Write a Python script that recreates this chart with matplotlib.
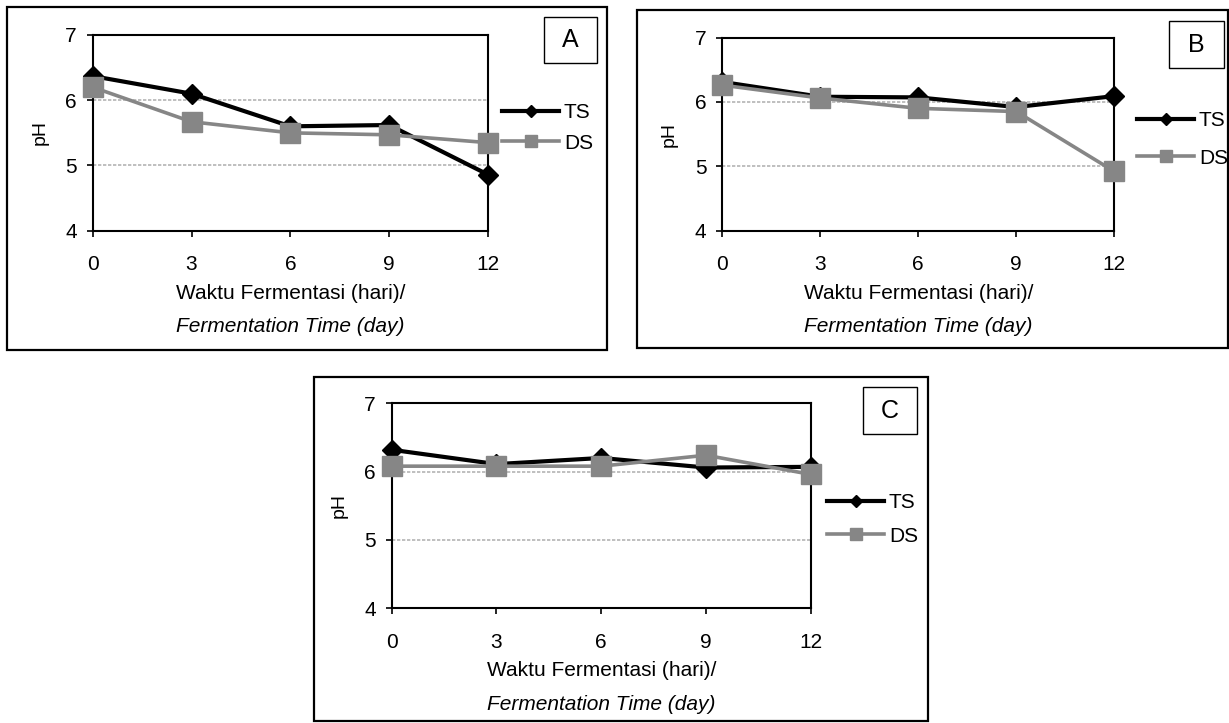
import matplotlib
matplotlib.use("Agg")
import matplotlib.pyplot as plt
from matplotlib.patches import Rectangle

plt.rcParams['font.family'] = ['Liberation Sans', 'DejaVu Sans']

days = [0, 3, 6, 9, 12]
xtick_labels = ["0", "3", "6", "9", "12"]
ytick_vals = [4, 5, 6, 7]

ts_a = [6.37, 6.10, 5.60, 5.62, 4.86]
ds_a = [6.20, 5.67, 5.50, 5.47, 5.35]
ts_b = [6.31, 6.08, 6.07, 5.92, 6.09]
ds_b = [6.26, 6.06, 5.90, 5.85, 4.92]
ts_c = [6.32, 6.11, 6.20, 6.06, 6.07]
ds_c = [6.08, 6.08, 6.08, 6.24, 5.96]

panel_letters = ["A", "B", "C"]
series_names = ["TS", "DS"]
xlabel_line1 = "Waktu Fermentasi (hari)/"
xlabel_line2 = "Fermentation Time (day)"
ylabel_text = "pH"

W, H = 1229, 723
fig = plt.figure(figsize=(W / 100, H / 100), dpi=100)
PX = 0.72  # points per pixel at dpi 100


def fx(px):
    return px / W


def fy(py):
    return 1 - py / H


def panel(frame, axbox, letterbox, leg, ts, ds, letter):
    x0, y0, x1, y1 = frame
    fig.patches.append(Rectangle((fx(x0), fy(y1)), fx(x1 - x0), (y1 - y0) / H,
                                 transform=fig.transFigure, fill=False,
                                 edgecolor='black', linewidth=1.6, zorder=0))
    ax0, ay0, ax1, ay1 = axbox
    ax = fig.add_axes([fx(ax0), fy(ay1), fx(ax1 - ax0), (ay1 - ay0) / H])
    for v in [5, 6]:
        ax.axhline(v, color='#b4b4b4', lw=1.2, ls=(0, (2, 1)), zorder=1)
    ax.plot(days, ts, color='black', lw=3, marker='D', markersize=10,
            markerfacecolor='black', markeredgecolor='black', label=series_names[0],
            zorder=3, clip_on=False)
    ax.plot(days, ds, color='#868686', lw=2.6, marker='s', markersize=14,
            markerfacecolor='#868686', markeredgecolor='#868686', label=series_names[1],
            zorder=4, clip_on=False)
    ax.set_xlim(0, 12)
    ax.set_ylim(4, 7)
    ax.set_xticks(days)
    ax.set_xticklabels(xtick_labels)
    ax.set_yticks(ytick_vals)
    for s in ax.spines.values():
        s.set_linewidth(1.5)
    ax.tick_params(axis='both', labelsize=15, length=4.5, width=1.2, direction='out')
    ax.tick_params(axis='x', pad=13)
    ax.tick_params(axis='y', pad=7)
    ax.set_ylabel(ylabel_text, fontsize=14, labelpad=12)
    ax.set_xlabel(xlabel_line1, fontsize=15, labelpad=7)
    ax.annotate(xlabel_line2, xy=(0.5, 0), xycoords='axes fraction',
                xytext=(0, -96 * PX), textcoords='offset points',
                ha='center', va='center', fontsize=15, style='italic')
    # legend
    lx, ly_ts, ly_ds = leg
    row_h = 19.5
    spacing = (ly_ds - ly_ts - row_h) / 20.8
    top = ly_ts - row_h / 2 + 3
    ax.legend(loc='upper left',
              bbox_to_anchor=((lx - ax0) / (ax1 - ax0), 1 - (top - ay0) / (ay1 - ay0)),
              frameon=False, fontsize=15, handlelength=2.75, handletextpad=0.22,
              labelspacing=spacing, borderpad=0, borderaxespad=0, markerscale=0.6)
    lx0, ly0, lx1, ly1 = letterbox
    fig.patches.append(Rectangle((fx(lx0), fy(ly1)), fx(lx1 - lx0), (ly1 - ly0) / H,
                                 transform=fig.transFigure, fill=False,
                                 edgecolor='black', linewidth=1.0))
    fig.text(fx((lx0 + lx1) / 2), fy((ly0 + ly1) / 2), letter, fontsize=18,
             ha='center', va='center')
    return ax


panel((7, 7, 607, 350), (92.7, 35, 488, 230.7), (544, 17, 597, 63),
      (502, 110, 141), ts_a, ds_a, panel_letters[0])
panel((637, 10, 1228, 348), (722.3, 37.5, 1114.3, 230.7), (1169, 21, 1224, 68),
      (1137, 118, 156), ts_b, ds_b, panel_letters[1])
panel((314, 377, 928, 721), (391.7, 403.3, 810.7, 608.3), (863, 387, 917, 434),
      (827, 500, 534), ts_c, ds_c, panel_letters[2])

fig.savefig("out.png", dpi=100)
